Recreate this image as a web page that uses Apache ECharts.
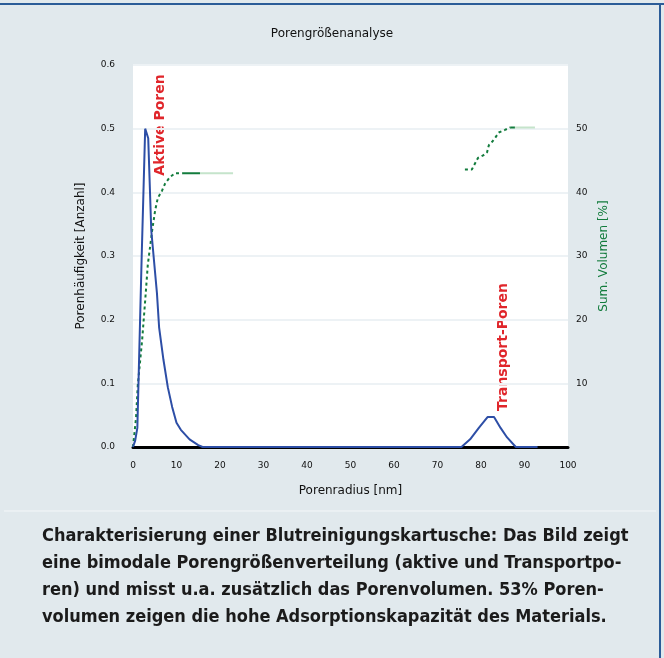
<!DOCTYPE html>
<html>
<head>
<meta charset="utf-8">
<script src="https://cdn.jsdelivr.net/npm/echarts@6/dist/echarts.min.js"></script>
<style>
  html, body { margin: 0; padding: 0; background: #e1e9ed; }
  #chart { width: 664px; height: 658px; }
</style>
</head>
<body>
<div id="chart"></div>
<script>
// Porenradius (x) und Porenhäufigkeit (linke Achse)
const poreX = [0, 0.5, 1, 2, 2.8, 3.5, 4.2, 5.5, 6, 7, 8, 9, 10, 11, 13, 15, 16, 75.5, 77.5, 79.5, 81.5, 83, 84.5, 86, 88, 93]
const poreCount = [0, 0.01, 0.03, 0.3, 0.5, 0.485, 0.34, 0.242, 0.188, 0.137, 0.094, 0.063, 0.038, 0.027, 0.012, 0.003, 0, 0, 0.012, 0.03, 0.047, 0.047, 0.03, 0.015, 0, 0]

// Summenvolumen (rechte Achse), Lücke dazwischen
const volX = [0, 0.7, 1.1, 2.1, 2.8, 3.4, 4.4, 5.1, 5.7, 6.7, 7.4, 8.5, 9.7, 11.3, 50, 76.3, 77.9, 79.3, 80.5, 81.4, 81.8, 82.5, 83.2, 84.1, 85.5, 86.7]
const volY = [0, 4.6, 9.7, 16.8, 23, 28.6, 34, 37.2, 39.1, 40.3, 41.4, 42.4, 43, 43, null, 43.6, 43.6, 45.4, 45.8, 46.3, 47.4, 47.9, 48.5, 49.4, 49.8, 50.2]
const plateauDarkX = [[11.3, 15.4], [86.7, 87.8]]
const plateauLightX = [[15.4, 23], [87.8, 92.4]]
const plateauY = [43, 50.2]

const xTicks = { min: 0, max: 100, interval: 10 }
const leftTicks = { min: 0, max: 0.6, interval: 0.1 }
const rightTicks = { min: 0, max: 60, interval: 10 }

const caption = [
  'Charakterisierung einer Blutreinigungskartusche: Das Bild zeigt',
  'eine bimodale Porengrößenverteilung (aktive und Transportpo-',
  'ren) und misst u.a. zusätzlich das Porenvolumen. 53% Poren-',
  'volumen zeigen die hohe Adsorptionskapazität des Materials.'
]

const chart = echarts.init(document.getElementById('chart'))

const pairs = (xs, ys) => xs.map((x, i) => [x, ys[i]])
const plateau = (ranges) => {
  const out = []
  ranges.forEach((r, i) => {
    if (i > 0) out.push([r[0], null])
    out.push([r[0], plateauY[i]], [r[1], plateauY[i]])
  })
  return out
}

const blue = '#2d4ea6'
const green = '#137c3d'

chart.setOption({
  backgroundColor: '#e1e9ed',
  animation: false,
  title: {
    text: 'Porengrößenanalyse',
    left: 'center',
    top: 23,
    textStyle: { fontFamily: 'DejaVu Sans', fontSize: 12, fontWeight: 'normal', color: '#111' }
  },
  grid: {
    left: 133,
    right: 96,
    top: 65,
    bottom: 211,
    show: true,
    backgroundColor: '#ffffff',
    borderWidth: 0
  },
  xAxis: {
    type: 'value',
    ...xTicks,
    name: 'Porenradius [nm]',
    nameLocation: 'middle',
    nameGap: 38,
    nameTextStyle: { fontFamily: 'DejaVu Sans', fontSize: 12, color: '#111' },
    axisLine: { lineStyle: { color: '#000', width: 3 } },
    axisTick: { show: false },
    axisLabel: { fontFamily: 'DejaVu Sans', fontSize: 9, color: '#111', margin: 14 },
    splitLine: { show: false }
  },
  yAxis: [
    {
      type: 'value',
      ...leftTicks,
      name: 'Porenhäufigkeit [Anzahl]',
      nameLocation: 'middle',
      nameGap: 46,
      nameTextStyle: { fontFamily: 'DejaVu Sans', fontSize: 12, color: '#111' },
      axisLine: { show: false },
      axisTick: { show: false },
      axisLabel: {
        fontFamily: 'DejaVu Sans',
        fontSize: 9,
        color: '#111',
        margin: 18,
        formatter: (v) => v.toFixed(1)
      },
      splitLine: { lineStyle: { color: '#edf2f5', width: 2 } }
    },
    {
      type: 'value',
      ...rightTicks,
      position: 'right',
      name: 'Sum. Volumen [%]',
      nameLocation: 'middle',
      nameGap: 30,
      nameTextStyle: { fontFamily: 'DejaVu Sans', fontSize: 12, color: green },
      axisLine: { show: false },
      axisTick: { show: false },
      axisLabel: {
        fontFamily: 'DejaVu Sans',
        fontSize: 9,
        color: '#111',
        margin: 8,
        formatter: (v) => (v === 0 || v === 60 ? '' : String(v))
      },
      splitLine: { show: false }
    }
  ],
  series: [
    {
      name: 'Porenhäufigkeit',
      type: 'line',
      yAxisIndex: 0,
      symbol: 'none',
      z: 5,
      data: pairs(poreX, poreCount),
      lineStyle: { color: blue, width: 2 }
    },
    {
      name: 'Sum. Volumen',
      type: 'line',
      yAxisIndex: 1,
      symbol: 'none',
      connectNulls: false,
      z: 4,
      data: pairs(volX, volY),
      lineStyle: { color: green, width: 2, type: [3, 3] }
    },
    {
      name: 'Plateau',
      type: 'line',
      yAxisIndex: 1,
      symbol: 'none',
      connectNulls: false,
      z: 4,
      data: plateau(plateauDarkX),
      lineStyle: { color: green, width: 2 }
    },
    {
      name: 'Plateau hell',
      type: 'line',
      yAxisIndex: 1,
      symbol: 'none',
      connectNulls: false,
      z: 4,
      data: plateau(plateauLightX),
      lineStyle: { color: '#c5e4cb', width: 2 }
    }
  ],
  graphic: [
    // Rahmen
    { type: 'line', shape: { x1: 0, y1: 4, x2: 664, y2: 4 }, style: { stroke: '#2b5c98', lineWidth: 2 } },
    { type: 'line', shape: { x1: 660, y1: 4, x2: 660, y2: 658 }, style: { stroke: '#2b5c98', lineWidth: 2 } },
    { type: 'line', shape: { x1: 4, y1: 511, x2: 656, y2: 511 }, style: { stroke: '#f4f7f9', lineWidth: 1 } },
    // Beschriftungen im Diagramm
    {
      type: 'text',
      x: 160,
      y: 125,
      rotation: Math.PI / 2,
      style: {
        text: 'Aktive Poren',
        fill: '#e0262b',
        font: 'bold 14px "DejaVu Sans"',
        textAlign: 'center',
        textVerticalAlign: 'middle'
      }
    },
    {
      type: 'text',
      x: 503,
      y: 347,
      rotation: Math.PI / 2,
      style: {
        text: 'Transport-Poren',
        fill: '#e0262b',
        font: 'bold 14px "DejaVu Sans"',
        textAlign: 'center',
        textVerticalAlign: 'middle'
      }
    },
    ...caption.map((line, i) => ({
      type: 'text',
      x: 42,
      y: 536 + i * 27,
      style: {
        text: line,
        fill: '#1b1b1b',
        font: 'bold 18px "DejaVu Sans Condensed"',
        textAlign: 'left',
        textVerticalAlign: 'middle'
      }
    }))
  ]
})
</script>
</body>
</html>
